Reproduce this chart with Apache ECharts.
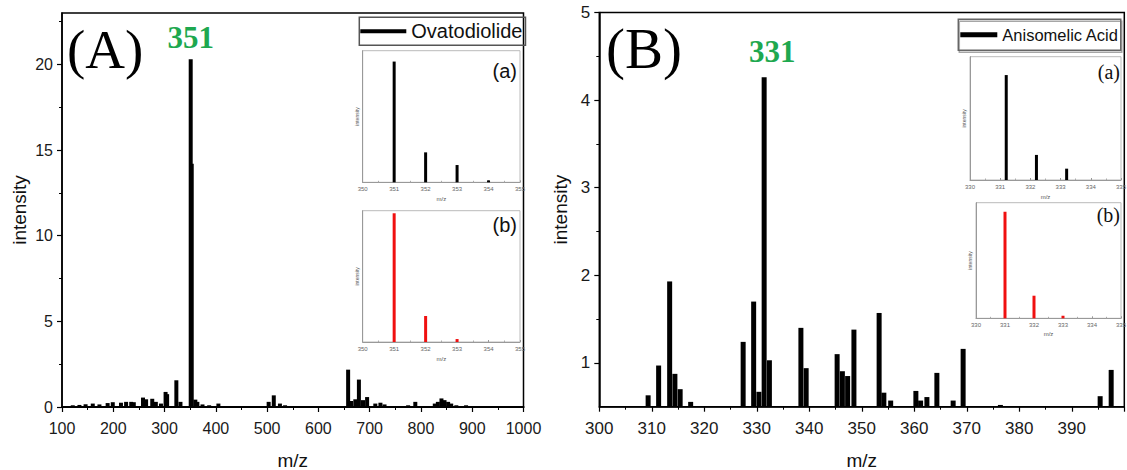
<!DOCTYPE html>
<html>
<head>
<meta charset="utf-8">
<script src="https://cdn.jsdelivr.net/npm/echarts@6/dist/echarts.min.js"></script>
<style>
  html, body { margin: 0; padding: 0; background: #fff; }
  #chart { width: 1127px; height: 470px; }
</style>
</head>
<body>
<div id="chart"></div>
<script>
// (A) Ovatodiolide spectrum: [m/z, intensity]
const ovatoPeaks = [
  [109, 0.05], [121, 0.1], [134, 0.12], [146, 0.16], [160, 0.2], [173, 0.15],
  [189, 0.23], [199, 0.28], [215, 0.25], [225, 0.3], [235, 0.3], [240, 0.28],
  [258, 0.55], [264, 0.45], [276, 0.48], [283, 0.3], [293, 0.2], [302, 0.88],
  [305, 0.75], [323, 1.56], [331, 0.3], [351, 20.3], [353, 14.2], [360, 0.43],
  [364, 0.3], [374, 0.15], [387, 0.1], [405, 0.2], [422, 0.05], [458, 0.05],
  [503, 0.3], [513, 0.68], [525, 0.2], [535, 0.1], [557, 0.05], [638, 0.05],
  [658, 2.18], [664, 0.35], [672, 0.45], [679, 1.6], [687, 0.4], [695, 0.58],
  [711, 0.2], [721, 0.25], [729, 0.15], [752, 0.05], [765, 0.05], [775, 0.1],
  [789, 0.3], [827, 0.2], [833, 0.3], [840, 0.5], [846, 0.4], [853, 0.3],
  [859, 0.2], [869, 0.1], [888, 0.1]
];
// (B) Anisomelic acid spectrum: [m/z, intensity]
const anisoPeaks = [
  [309.3, 0.63], [311.3, 0.97], [313.4, 1.93], [314.4, 0.875], [315.4, 0.70],
  [317.4, 0.555], [327.4, 1.24], [329.4, 1.70], [330.4, 0.67], [331.4, 4.26],
  [332.4, 1.03], [338.4, 1.40], [339.4, 0.94], [345.3, 1.10], [346.3, 0.905],
  [347.3, 0.85], [348.5, 1.38], [353.3, 1.57], [354.2, 0.66], [355.5, 0.57],
  [360.3, 0.68], [361.2, 0.57], [362.4, 0.61], [364.3, 0.886], [367.4, 0.57],
  [369.3, 1.16], [376.4, 0.52], [395.4, 0.62], [397.5, 0.92]
];
// insets: isotope patterns (relative intensity)
const ovatoMeasured = [[351, 100], [352, 24.8], [353, 14.3], [354, 1.6]];
const ovatoTheory = [[351, 100], [352, 20.2], [353, 2.3]];
const anisoMeasured = [[331.2, 100], [332.2, 23.9], [333.2, 10.8]];
const anisoTheory = [[331, 100], [332, 21.2], [333, 2.4]];

const labelA = 351, labelB = 331.4;
const yTicksA = [0, 5, 10, 15, 20];
const yMinorA = [2.5, 7.5, 12.5, 17.5, 22.5];
const yTicksB = [1, 2, 3, 4, 5];
const yMinorB = [1.5, 2.5, 3.5, 4.5];

const SANS = '"Liberation Sans", Arial, sans-serif';
const SERIF = '"Liberation Serif", "Times New Roman", serif';
const GREEN = '#1ea84f';

const chart = echarts.init(document.getElementById('chart'), null, { renderer: 'svg' });

function mainX(grid, min, max, interval, fs, showMax, lineW) {
  return {
    type: 'value', gridIndex: grid, min, max, interval,
    name: 'm/z', nameLocation: 'middle', nameGap: 44,
    nameTextStyle: { fontSize: 19, fontFamily: SANS, color: '#111' },
    axisLine: { onZero: false, lineStyle: { color: '#000', width: lineW } },
    axisTick: { length: 5, lineStyle: { color: '#000', width: 1.2 } },
    minorTick: { show: true, splitNumber: 2, length: 3, lineStyle: { color: '#000', width: 1 } },
    axisLabel: { fontSize: fs, fontFamily: SANS, color: '#1a1a1a', margin: 13, showMaxLabel: showMax, formatter: v => String(v) },
    splitLine: { show: false }, minorSplitLine: { show: false }
  };
}
function mainY(grid, min, max, ticks, nameGap, fs) {
  return {
    type: 'value', gridIndex: grid, min, max, position: 'left',
    name: 'intensity', nameLocation: 'middle', nameGap,
    nameTextStyle: { fontSize: 19, fontFamily: SANS, color: '#111' },
    axisLine: { onZero: false, lineStyle: { color: '#000', width: 1.5 } },
    axisTick: { length: 5, customValues: ticks, lineStyle: { color: '#000', width: 1.2 } },
    axisLabel: { fontSize: fs, fontFamily: SANS, color: '#1a1a1a', margin: 9, customValues: ticks },
    splitLine: { show: false }
  };
}
function minorY(grid, min, max, ticks) {
  return {
    type: 'value', gridIndex: grid, min, max, position: 'left',
    axisLine: { show: false },
    axisTick: { length: 3, customValues: ticks, lineStyle: { color: '#000', width: 1 } },
    axisLabel: { show: false }, splitLine: { show: false }
  };
}
function insetX(grid, min, max, gap) {
  return {
    type: 'value', gridIndex: grid, min, max, interval: 1,
    name: 'm/z', nameLocation: 'middle', nameGap: gap,
    nameTextStyle: { fontSize: 6, fontFamily: SANS, color: '#555' },
    axisLine: { onZero: false, lineStyle: { color: '#999', width: 1 } },
    axisTick: { inside: true, length: 2, lineStyle: { color: '#999' } },
    minorTick: { show: true, splitNumber: 2, length: 1.5, lineStyle: { color: '#aaa' } },
    axisLabel: { fontSize: 6, fontFamily: SANS, color: '#666', margin: 4 },
    splitLine: { show: false }
  };
}
function insetY(grid, max, gap) {
  return {
    type: 'value', gridIndex: grid, min: 0, max,
    name: 'intensity', nameLocation: 'middle', nameGap: gap,
    nameTextStyle: { fontSize: 5, fontFamily: SANS, color: '#555' },
    axisLine: { lineStyle: { color: '#999', width: 1 } },
    axisTick: { show: false }, axisLabel: { show: false }, splitLine: { show: false }
  };
}
function peakLabel(text, offset) {
  return {
    show: true, position: 'top', distance: 6, offset: offset || [0, 0],
    formatter: text, color: GREEN, fontFamily: SERIF, fontWeight: 'bold', fontSize: 31
  };
}
function box(left, top, width, height, color, w) {
  return { left, top, width, height, show: true, borderColor: color, borderWidth: w, outerBoundsMode: 'none', containLabel: false };
}

const dataA = ovatoPeaks.map(p => p[0] === labelA ? { value: p, label: peakLabel(String(labelA)) } : p);
const dataB = anisoPeaks.map(p => p[0] === labelB ? { value: p, label: peakLabel('331', [8, -4]) } : p);

chart.setOption({
  animation: false,
  backgroundColor: '#fff',
  grid: [
    box(62, 13, 461.5, 394, '#000', 1.5),
    box(362.7, 50.7, 157.3, 131.6, '#bbb', 1),
    box(362.7, 210.7, 157.3, 131.3, '#bbb', 1),
    box(599.3, 12.5, 525, 394.2, '#000', 1.5),
    box(970, 56.7, 151, 123.3, '#bbb', 1),
    box(976, 202.7, 145, 115.6, '#bbb', 1)
  ],
  xAxis: [
    mainX(0, 100, 1000, 100, 16, true, 2.2),
    insetX(1, 350, 355, 14),
    insetX(2, 350, 355, 14),
    mainX(3, 300, 400, 10, 17, false, 1.5),
    insetX(4, 330, 335, 14),
    insetX(5, 330, 335, 13)
  ],
  yAxis: [
    mainY(0, 0, 23, yTicksA, 33, 16),
    insetY(1, 109, 3.5),
    insetY(2, 102, 3.5),
    mainY(3, 0.5, 5, yTicksB, 29, 17),
    insetY(4, 117.5, 4),
    insetY(5, 108.5, 3.5),
    minorY(0, 0, 23, yMinorA),
    minorY(3, 0.5, 5, yMinorB)
  ],
  legend: [
    {
      data: ['Ovatodiolide'], left: 359.3, top: 17.3, icon: 'rect',
      itemWidth: 46, itemHeight: 4, padding: [4, 3, 4, 1],
      borderColor: '#555', borderWidth: 1.5,
      textStyle: { fontSize: 20, fontFamily: SANS, color: '#111' }
    },
    {
      data: ['Anisomelic Acid'], left: 958.3, top: 19.3, icon: 'rect',
      itemWidth: 37, itemHeight: 5, padding: [7, 2, 7, 2],
      borderColor: '#666', borderWidth: 1.5,
      shadowColor: 'rgba(0,0,0,0.35)', shadowOffsetY: 2, shadowOffsetX: 1, shadowBlur: 1,
      textStyle: { fontSize: 16.5, fontFamily: SANS, color: '#111' }
    }
  ],
  series: [
    { name: 'Ovatodiolide', type: 'bar', xAxisIndex: 0, yAxisIndex: 0, barWidth: 4, data: dataA, itemStyle: { color: '#000' } },
    { type: 'bar', xAxisIndex: 1, yAxisIndex: 1, barWidth: 3, data: ovatoMeasured, itemStyle: { color: '#000' } },
    { type: 'bar', xAxisIndex: 2, yAxisIndex: 2, barWidth: 3, data: ovatoTheory, itemStyle: { color: '#f01010' } },
    { name: 'Anisomelic Acid', type: 'bar', xAxisIndex: 3, yAxisIndex: 3, barWidth: 5, data: dataB, itemStyle: { color: '#000' } },
    { type: 'bar', xAxisIndex: 4, yAxisIndex: 4, barWidth: 3, data: anisoMeasured, itemStyle: { color: '#000' } },
    { type: 'bar', xAxisIndex: 5, yAxisIndex: 5, barWidth: 3, data: anisoTheory, itemStyle: { color: '#f01010' } }
  ],
  graphic: [
    { type: 'text', left: 67, top: 22, style: { text: '(A)', font: '55px ' + SERIF, fill: '#000' } },
    { type: 'text', left: 606, top: 20, style: { text: '(B)', font: '57px ' + SERIF, fill: '#000' } },
    { type: 'text', right: 1127 - 517, top: 61, style: { text: '(a)', font: '20px ' + SANS, fill: '#111' } },
    { type: 'text', right: 1127 - 517, top: 215, style: { text: '(b)', font: '20px ' + SANS, fill: '#111' } },
    { type: 'text', right: 1127 - 1120, top: 62, style: { text: '(a)', font: '20px ' + SERIF, fill: '#111' } },
    { type: 'text', right: 1127 - 1120, top: 205, style: { text: '(b)', font: '20px ' + SERIF, fill: '#111' } }
  ]
});
</script>
</body>
</html>
